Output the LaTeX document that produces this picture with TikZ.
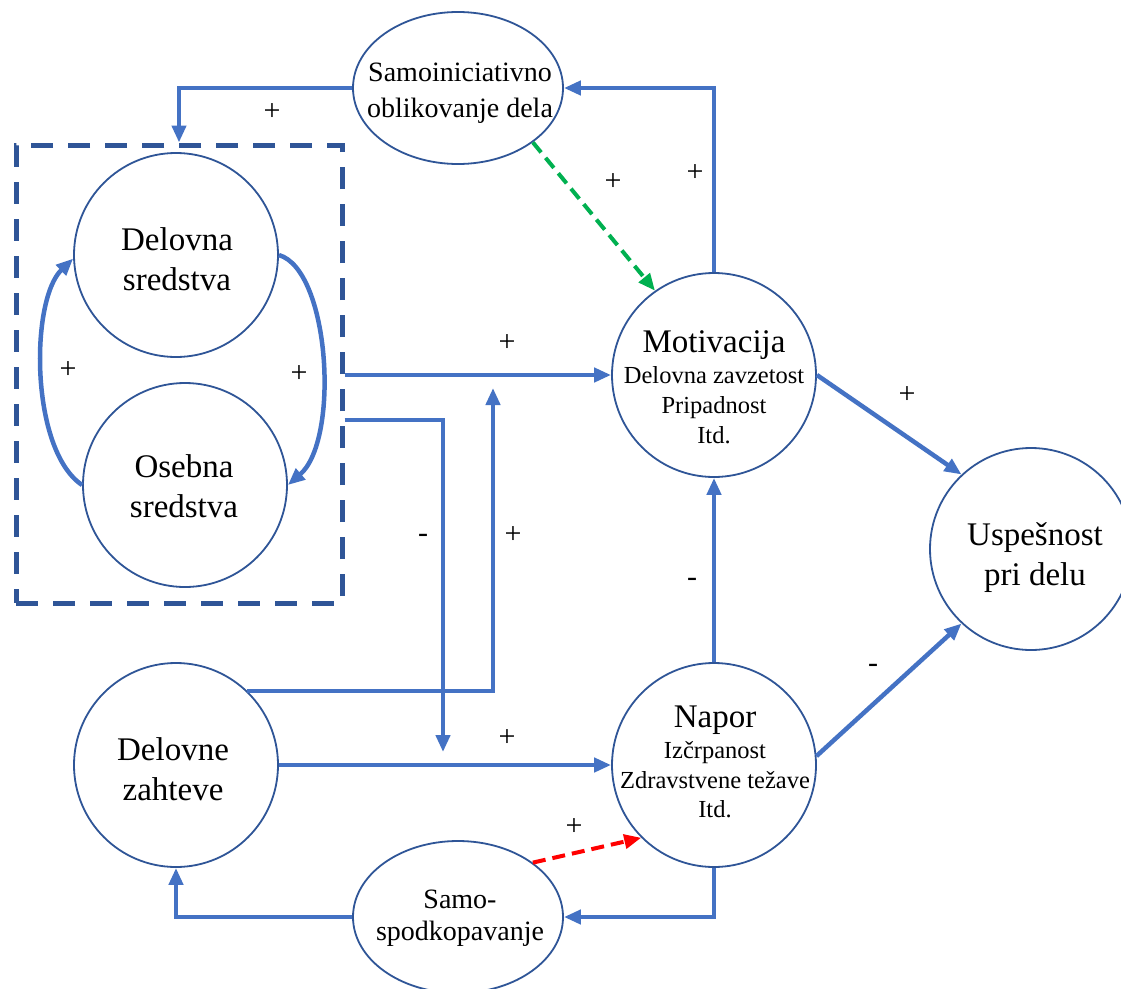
\documentclass[tikz,border=0pt]{standalone}
\usepackage{fontspec}
\setmainfont{Liberation Serif}
\usetikzlibrary{shapes.geometric,arrows.meta}
\definecolor{linkblue}{HTML}{4472C4}
\definecolor{rimblue}{HTML}{2F5597}
\definecolor{boxblue}{HTML}{2F5597}
\definecolor{greenflow}{HTML}{00B050}
\definecolor{redflow}{HTML}{FF0000}

\begin{document}
\begin{tikzpicture}[x=1pt,y=-1pt,
  circ/.style={circle, draw=rimblue, line width=1.8pt, minimum size=204pt, inner sep=0pt},
  oval/.style={ellipse, draw=rimblue, line width=1.8pt, minimum width=210pt, minimum height=152pt, inner sep=0pt},
  grpbox/.style={rectangle, draw=boxblue, line width=5pt, dash pattern=on 22pt off 15pt, inner sep=0pt},
  link/.style={draw=linkblue, line width=4.5pt, -{Triangle[length=17pt,width=14pt]}},
  greenlink/.style={draw=greenflow, line width=4pt, dash pattern=on 13pt off 7pt, -{Triangle[length=17pt,width=14pt]}},
  redlink/.style={draw=redflow, line width=4pt, dash pattern=on 13pt off 7pt, -{Triangle[length=17pt,width=14pt]}},
  bigtxt/.style={anchor=base, inner sep=0pt, font=\fontsize{33}{40}\selectfont},
  midtxt/.style={anchor=base, inner sep=0pt, font=\fontsize{28}{34}\selectfont},
  smalltxt/.style={anchor=base, inner sep=0pt, font=\fontsize{24.5}{30}\selectfont},
  sign/.style={anchor=center, inner sep=0pt, font=\fontsize{30}{36}\selectfont}
]
\fill[white] (0,0) rectangle (1121,988);
\useasboundingbox (0,0) rectangle (1121,988);

% resources group
\node[grpbox, minimum width=326pt, minimum height=458pt] (grp) at (179,374) {};

% main nodes
\node[circ] (ds) at (176,255) {};
\node[circ] (os) at (185,485) {};
\node[circ] (mot) at (714,375) {};
\node[circ] (nap) at (714,765) {};
\node[circ] (dz) at (176,765) {};
\node[circ, minimum size=202pt] (usp) at (1031,549) {};
\node[oval] (samo) at (458,88) {};
\node[oval] (sp) at (458,917) {};

% node texts
\node[bigtxt] (dsA) at (177,250) {Delovna};
\node[bigtxt] (dsB) at (177,290) {sredstva};
\node[bigtxt] (osA) at (184,477) {Osebna};
\node[bigtxt] (osB) at (184,517) {sredstva};
\node[bigtxt] (dzA) at (173,760) {Delovne};
\node[bigtxt] (dzB) at (173,800) {zahteve};
\node[bigtxt] (uspA) at (1035,545) {Uspešnost};
\node[bigtxt] (uspB) at (1035,585) {pri delu};

\node[bigtxt] (motA) at (714,352) {Motivacija};
\node[smalltxt] (motB) at (714,383) {Delovna zavzetost};
\node[smalltxt] (motC) at (714,413) {Pripadnost};
\node[smalltxt] (motD) at (714,443) {Itd.};

\node[bigtxt] (napA) at (715,727) {Napor};
\node[smalltxt] (napB) at (715,758) {Izčrpanost};
\node[smalltxt] (napC) at (715,788) {Zdravstvene težave};
\node[smalltxt] (napD) at (715,817) {Itd.};

\node[midtxt] (samoA) at (460,81) {Samoiniciativno};
\node[midtxt] (samoB) at (460,117) {oblikovanje dela};
\node[midtxt] (spA) at (460,908) {Samo-};
\node[midtxt] (spB) at (460,940) {spodkopavanje};

% helper points for the split connectors
\coordinate (lvl) at (0,420);
\coordinate (lowSplit) at (443,752);
\coordinate (upJoin) at (493,388);

% connectors
\draw[link] (samo.west) -| (grp.north);
\draw[link] (mot.north) |- (samo.east);
\draw[greenlink] (samo.-36) -- (mot.125);
\draw[link] (grp.east |- mot.west) -- (mot.west);
\draw[link] (grp.east |- lvl) -| (lowSplit);
\draw[link] (dz.46) -| (upJoin);
\draw[link] (dz.east) -- (nap.west);
\draw[link] (nap.north) -- (mot.south);
\draw[link] (mot.east) -- (usp.133);
\draw[link] (nap.5) -- (usp.-133);
\draw[link] (nap.south) |- (sp.east);
\draw[link] (sp.west) -| (dz.south);
\draw[redlink] (sp.36) -- (nap.-135);
\draw[link] (os.west) .. controls (30,450) and (30,300) .. (ds.182);
\draw[link] (ds.east) .. controls (330,270) and (340,440) .. (os.east);

% signs
\node[sign] (s1) at (272,112) {+};
\node[sign] (s2) at (613,182) {+};
\node[sign] (s3) at (695,173) {+};
\node[sign] (s4) at (68,370) {+};
\node[sign] (s5) at (299,374) {+};
\node[sign] (s6) at (507,343) {+};
\node[sign] (s7) at (907,395) {+};
\node[sign] (s8) at (423,538) {-};
\node[sign] (s9) at (513,535) {+};
\node[sign] (s10) at (692,582) {-};
\node[sign] (s11) at (873,668) {-};
\node[sign] (s12) at (507,738) {+};
\node[sign] (s13) at (574,827) {+};
\end{tikzpicture}
\end{document}
